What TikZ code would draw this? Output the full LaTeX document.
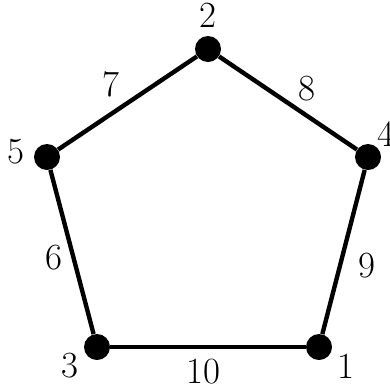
\documentclass[tikz,border=0pt]{standalone}
\usetikzlibrary{positioning}

\begin{document}
\begin{tikzpicture}[font=\fontsize{21}{24}\selectfont,
  vtx/.style={circle, fill=black, inner sep=0pt, minimum size=0.52cm},
  lbl/.style={inner sep=0pt},
  wt/.style={inner sep=0pt},
  edge/.style={line width=2.5pt}]
  \useasboundingbox (0,0) rectangle (7.8,7.78);
  \node[vtx] (v2) at (4.16,6.80) {};
  \node[vtx] (v5) at (0.94,4.64) {};
  \node[vtx] (v4) at (7.36,4.64) {};
  \node[vtx] (v3) at (1.94,0.84) {};
  \node[vtx] (v1) at (6.38,0.84) {};

  \node[lbl, above=0.16cm of v2] (l2) {2};
  \node[lbl, left=0.18cm of v5, yshift=0.1cm] (l5) {5};
  \node[lbl, above right=0.02cm and 0.0cm of v4] (l4) {4};
  \node[lbl, below left=-0.08cm and 0.18cm of v3] (l3) {3};
  \node[lbl, below right=-0.06cm and 0.18cm of v1] (l1) {1};

  \draw[edge] (v2) -- node[wt, xshift=-0.33cm, yshift=0.38cm] (w7) {7} (v5);
  \draw[edge] (v2) -- node[wt, xshift=0.38cm, yshift=0.28cm] (w8) {8} (v4);
  \draw[edge] (v5) -- node[wt, xshift=-0.36cm, yshift=-0.12cm] (w6) {6} (v3);
  \draw[edge] (v4) -- node[wt, xshift=0.47cm, yshift=-0.28cm] (w9) {9} (v1);
  \draw[edge] (v3) -- node[wt, xshift=-0.1cm, yshift=-0.5cm] (w10) {10} (v1);
\end{tikzpicture}
\end{document}
